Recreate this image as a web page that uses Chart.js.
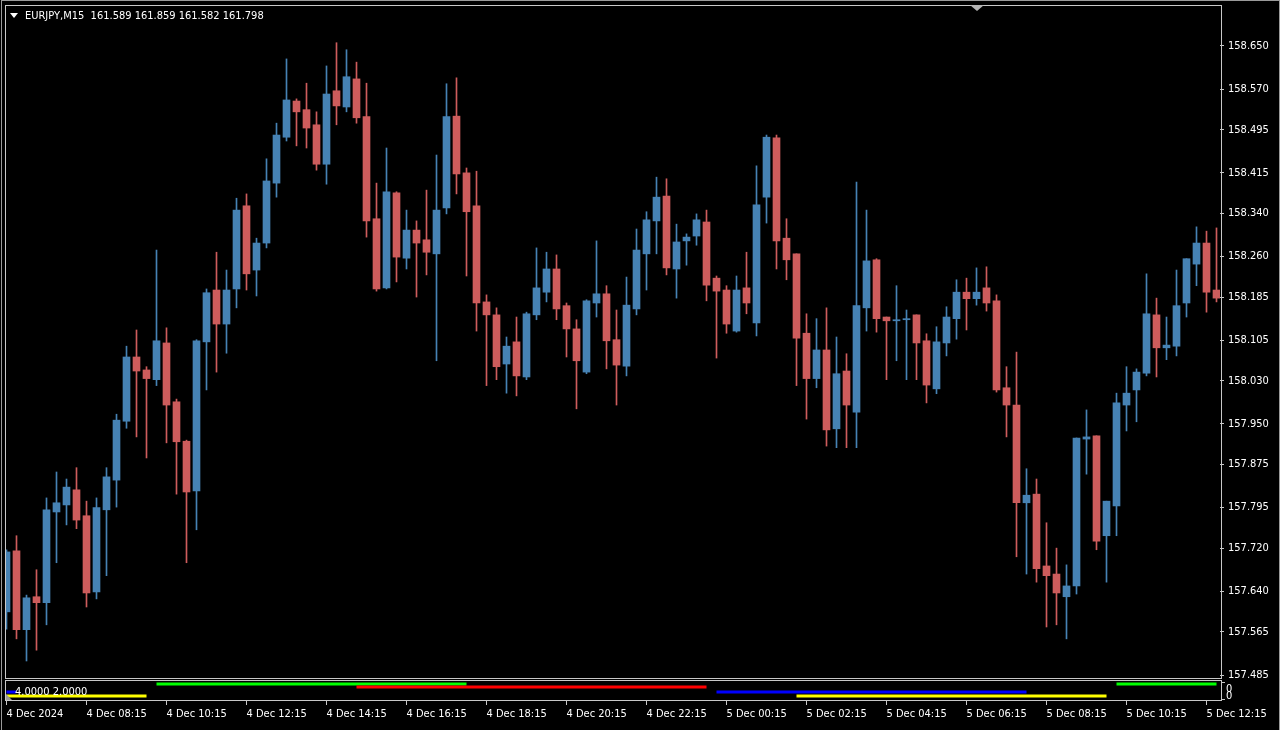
<!DOCTYPE html>
<html>
<head>
<meta charset="utf-8">
<script src="https://cdn.jsdelivr.net/npm/chart.js@4.4.1/dist/chart.umd.min.js"></script>
<style>
  body { margin: 0; background: #000; width: 1280px; height: 730px; overflow: hidden; position: relative;
         font-family: "DejaVu Sans Condensed", "Liberation Sans", sans-serif; }
  canvas { position: absolute; left: 0; }
  #priceChart { top: 0; }
  #indChart { top: 678px; }
  .box { position: absolute; border: 1px solid #c8c8c8; box-sizing: border-box; pointer-events: none; }
  .txt { position: absolute; color: #fff; font-size: 11px; line-height: 12px; white-space: pre; }
  .tri { position: absolute; width: 0; height: 0; }
  .tick { position: absolute; width: 4px; height: 1px; background: #c8c8c8; }
</style>
</head>
<body>
<div class="box" style="left:1px;top:0;width:1279px;height:730px;border-color:#9a9a9a;border-bottom:none"></div>
<canvas id="priceChart" width="1280" height="680"></canvas>
<canvas id="indChart" width="1280" height="52"></canvas>
<div class="box" style="left:5px;top:5px;width:1217px;height:674px"></div>
<div class="box" style="left:5px;top:680px;width:1217px;height:21px"></div>
<div class="tick" style="left:1221px;top:682px"></div>
<div class="tick" style="left:1221px;top:699px"></div>
<div class="tri" style="left:10px;top:13px;border-left:4px solid transparent;border-right:4px solid transparent;border-top:5px solid #fff"></div>
<div class="txt" style="left:25px;top:10px">EURJPY,M15  161.589 161.859 161.582 161.798</div>
<div class="tri" style="left:970px;top:5px;border-left:7px solid transparent;border-right:7px solid transparent;border-top:6px solid #b4b4b4"></div>
<div class="txt" style="left:15px;top:686px">4.0000 2.0000</div>
<div class="tri" style="left:6px;top:694px;border-bottom:6px solid #9a9a9a;border-right:6px solid transparent"></div>
<div class="txt" style="left:1226px;top:685px;line-height:7px">0<br>0</div>

<script>
// EURJPY M15, 4 Dec 06:15 .. 5 Dec 12:45
var opens = [
  157.602,157.715,157.569,157.630,157.619,157.787,157.800,157.828,157.780,157.639,
  157.791,157.846,157.955,158.074,158.050,158.032,158.100,157.991,157.918,157.826,
  158.102,158.198,158.135,158.200,158.354,158.235,158.285,158.396,158.481,158.548,
  158.532,158.504,158.431,158.567,158.537,158.589,158.519,158.330,158.202,158.378,
  158.257,158.309,158.291,158.265,158.350,158.520,158.415,158.354,158.176,158.152,
  158.061,158.102,158.037,158.152,158.194,158.237,158.169,158.126,158.046,158.174,
  158.191,158.106,158.057,158.163,158.265,158.326,158.372,158.237,158.289,158.298,
  158.324,158.220,158.198,158.122,158.202,158.137,158.370,158.480,158.294,158.265,
  158.118,158.034,158.087,157.941,158.048,157.972,158.165,158.254,158.148,158.141,
  158.143,158.152,158.104,158.015,158.100,158.145,158.194,158.182,158.202,158.178,
  158.017,157.985,157.804,157.820,157.687,157.672,157.630,157.650,157.922,157.928,
  157.743,157.798,157.985,158.013,158.044,158.152,158.091,158.094,158.174,158.246,
  158.285,158.198
];
var highs = [
  157.717,157.743,157.633,157.680,157.813,157.861,157.848,157.869,157.807,157.813,
  157.869,157.968,158.094,158.124,158.056,158.272,158.128,157.996,157.920,158.106,
  158.200,158.268,158.235,158.368,158.376,158.294,158.441,158.507,158.626,158.552,
  158.581,158.528,158.613,158.656,158.643,158.620,158.581,158.396,158.461,158.380,
  158.346,158.326,158.383,158.448,158.580,158.591,158.424,158.418,158.189,158.165,
  158.111,158.148,158.157,158.276,158.268,158.263,158.174,158.143,158.180,158.289,
  158.206,158.161,158.222,158.311,158.343,158.407,158.404,158.320,158.302,158.339,
  158.346,158.224,158.206,158.224,158.268,158.428,158.485,158.485,158.330,158.265,
  158.154,158.145,158.165,158.111,158.080,158.398,158.346,158.256,158.148,158.206,
  158.161,158.152,158.117,158.130,158.167,158.217,158.220,158.239,158.241,158.189,
  158.056,158.083,157.867,157.848,157.767,157.720,157.689,157.924,157.976,157.928,
  157.807,158.007,158.056,158.052,158.228,158.183,158.148,158.235,158.256,158.315,
  158.307,158.313
];
var lows = [
  157.570,157.552,157.511,157.531,157.578,157.693,157.763,157.756,157.611,157.626,
  157.669,157.796,157.942,157.926,157.887,158.021,157.915,157.820,157.693,157.754,
  158.013,158.046,158.081,158.165,158.198,158.187,158.276,158.370,158.474,158.465,
  158.461,158.420,158.394,158.504,158.528,158.507,158.296,158.196,158.200,158.213,
  158.237,158.185,158.226,158.067,158.339,158.376,158.224,158.122,158.021,158.032,
  158.007,158.002,158.032,158.143,158.176,158.143,158.074,157.978,158.043,158.148,
  158.052,157.985,158.039,158.152,158.198,158.265,158.226,158.183,158.244,158.281,
  158.178,158.072,158.118,158.120,158.154,158.113,158.322,158.237,158.217,158.021,
  157.959,158.017,157.909,157.906,157.906,157.906,158.122,158.120,158.032,158.067,
  158.032,158.032,157.989,158.006,158.076,158.107,158.124,158.170,158.159,158.009,
  157.926,157.704,157.672,157.657,157.574,157.578,157.552,157.635,157.857,157.717,
  157.657,157.743,157.937,157.954,158.039,158.037,158.069,158.076,158.148,158.206,
  158.157,158.176
];
var closes = [
  157.713,157.569,157.628,157.619,157.791,157.804,157.833,157.772,157.637,157.795,
  157.852,157.957,158.074,158.048,158.034,158.104,157.985,157.917,157.824,158.104,
  158.193,158.135,158.198,158.346,158.228,158.285,158.400,158.485,158.550,158.528,
  158.498,158.431,158.561,158.539,158.593,158.517,158.326,158.200,158.380,158.259,
  158.309,158.285,158.268,158.346,158.519,158.413,158.343,158.174,158.152,158.056,
  158.094,158.039,158.154,158.202,158.237,158.163,158.126,158.067,158.178,158.191,
  158.104,158.059,158.170,158.272,158.328,158.370,158.239,158.287,158.296,158.328,
  158.207,158.196,158.135,158.198,158.174,158.356,158.481,158.289,158.254,158.109,
  158.034,158.087,157.939,158.043,157.985,158.169,158.252,158.145,158.141,158.143,
  158.145,158.100,158.022,158.102,158.148,158.194,158.182,158.194,158.174,158.013,
  157.985,157.804,157.818,157.682,157.669,157.637,157.650,157.924,157.926,157.733,
  157.807,157.989,158.007,158.046,158.154,158.091,158.096,158.169,158.256,158.285,
  158.194,158.183
];

var priceTicks = [158.650,158.570,158.495,158.415,158.340,158.260,158.185,158.105,
                  158.030,157.950,157.875,157.795,157.720,157.640,157.565,157.485];
var timeTickIdx = [0,8,16,24,32,40,48,56,64,72,80,88,96,104,112,120];
var timeLabels = ['4 Dec 2024','4 Dec 08:15','4 Dec 10:15','4 Dec 12:15','4 Dec 14:15','4 Dec 16:15',
  '4 Dec 18:15','4 Dec 20:15','4 Dec 22:15','5 Dec 00:15','5 Dec 02:15','5 Dec 04:15',
  '5 Dec 06:15','5 Dec 08:15','5 Dec 10:15','5 Dec 12:15'];

// indicator bars in the sub window: [first bar, last bar]
var greenSegs = [[15,46],[111,121]];
var redSegs = [[35,70]];
var blueSegs = [[0,1],[71,102]];
var yellowSegs = [[0,14],[79,110]];
var greenLevel = 4, redLevel = 3.25, blueLevel = 2, yellowLevel = 1;

var BULL = '#4682b4', BEAR = '#cd5c5c';
var AXIS = '#c8c8c8';
Chart.defaults.font.family = '"DejaVu Sans Condensed", "Liberation Sans", sans-serif';
Chart.defaults.font.size = 11;
Chart.defaults.color = '#ffffff';

var candleColors = opens.map(function (o, i) { return closes[i] >= o ? BULL : BEAR; });
var bodies = opens.map(function (o, i) { return { x: i, y: [o, closes[i]] }; });
var wicks = lows.map(function (l, i) { return { x: i, y: [l, highs[i]] }; });

var xMin = -0.05, xMax = 121.35;

new Chart(document.getElementById('priceChart'), {
  type: 'bar',
  data: {
    datasets: [
      { data: bodies, backgroundColor: candleColors, barThickness: 7, grouped: false, order: 1, minBarLength: 1 },
      { data: wicks, backgroundColor: candleColors, barThickness: 1, grouped: false, order: 2 }
    ]
  },
  options: {
    responsive: false,
    animation: false,
    layout: { padding: { left: 6, top: 6, bottom: 2, right: 0 } },
    plugins: { legend: { display: false }, tooltip: { enabled: false } },
    scales: {
      x: { type: 'linear', min: xMin, max: xMax, offset: false, display: false },
      y: {
        position: 'right', min: 157.4795, max: 158.724,
        afterBuildTicks: function (s) { s.ticks = priceTicks.map(function (v) { return { value: v }; }); },
        afterFit: function (s) { s.width = 60; s.paddingTop = 0; s.paddingBottom = 0; },
        grid: { drawOnChartArea: false, drawTicks: true, tickLength: 4, color: AXIS },
        border: { display: false },
        ticks: { color: '#ffffff', padding: 4, callback: function (v) { return v.toFixed(3); } }
      }
    }
  }
});

function segPoints(segs, level) {
  var pts = [];
  segs.forEach(function (s, k) {
    if (k > 0) pts.push({ x: s[0] - 0.5, y: null });
    pts.push({ x: s[0], y: level }, { x: s[1], y: level });
  });
  return pts;
}

new Chart(document.getElementById('indChart'), {
  type: 'line',
  data: {
    datasets: [
      { data: segPoints(yellowSegs, yellowLevel), borderColor: '#ffff00' },
      { data: segPoints(blueSegs, blueLevel), borderColor: '#0000ff' },
      { data: segPoints(redSegs, redLevel), borderColor: '#ff0000' },
      { data: segPoints(greenSegs, greenLevel), borderColor: '#00ff00' }
    ]
  },
  options: {
    responsive: false,
    animation: false,
    spanGaps: false,
    elements: { point: { radius: 0 }, line: { borderWidth: 3, borderCapStyle: 'butt', tension: 0 } },
    layout: { padding: { left: 6, top: 3, bottom: 0, right: 0 } },
    plugins: { legend: { display: false }, tooltip: { enabled: false } },
    scales: {
      x: {
        type: 'linear', min: xMin, max: xMax, position: 'bottom', offset: false,
        afterBuildTicks: function (s) { s.ticks = timeTickIdx.map(function (v) { return { value: v }; }); },
        afterFit: function (s) { s.height = 30; s.paddingLeft = 0; s.paddingRight = 0; },
        grid: { drawOnChartArea: false, drawTicks: true, tickLength: 5, color: AXIS },
        border: { display: false },
        ticks: {
          color: '#ffffff', padding: 3, align: 'start', autoSkip: false, maxRotation: 0,
          callback: function (v) { return timeLabels[timeTickIdx.indexOf(v)]; }
        }
      },
      y: {
        position: 'right', min: 0, max: 4.75,
        afterFit: function (s) { s.width = 60; s.paddingTop = 0; s.paddingBottom = 0; },
        grid: { display: false }, border: { display: false }, ticks: { display: false }
      }
    }
  }
});
</script>
</body>
</html>
